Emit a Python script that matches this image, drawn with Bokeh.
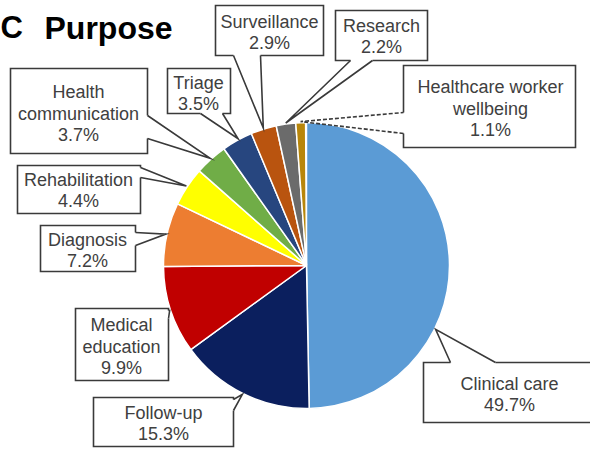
import math
from bokeh.plotting import figure
from bokeh.models import Range1d
from bokeh.core.properties import value
from bokeh.embed import file_html
from bokeh.resources import INLINE

# ---------------- data ----------------
categories = ["Clinical care", "Follow-up", "Medical education", "Diagnosis",
              "Rehabilitation", "Health communication", "Triage", "Surveillance",
              "Research", "Healthcare worker wellbeing"]
percent = [49.7, 15.3, 9.9, 7.2, 4.4, 3.7, 3.5, 2.9, 2.2, 1.1]
colors = ["#5B9BD5", "#0B1F5E", "#C00000", "#ED7D31", "#FFFF00",
          "#70AD47", "#27467F", "#B9540F", "#6B6B6B", "#B8860B"]
title_letter = "C"
title_text = "Purpose"

# ---------------- layout (pixels, y down) ----------------
W, H = 590, 449
CX, CY, R = 306, 265, 143
line_breaks = {"Medical education": ["Medical", "education"],
               "Health communication": ["Health", "communication"],
               "Healthcare worker wellbeing": ["Healthcare worker", "wellbeing"]}
# box (x0, y0, x1, y1), side of pointer, base (a, b), pointer position in slice, text centre, dashed pointer
callouts = {
    "Clinical care":        ((423, 362, 598, 422), "top",    (450, 495), 0.65, (509, 394), False),
    "Follow-up":            ((93, 397, 233, 446),  "right",  (399, 410), 0.50, (163, 423), False),
    "Medical education":    ((75, 308, 168, 380),  "right",  (310, 318), 0.50, (121, 346), False),
    "Diagnosis":            ((40, 225, 135, 271),  "right",  (232, 245), 0.50, (87, 250), False),
    "Rehabilitation":       ((17, 165, 140, 213),  "right",  (167, 177), 0.50, (78, 190), False),
    "Health communication": ((10, 68, 147, 153),   "right",  (115, 138), 0.50, (78, 113), False),
    "Triage":               ((167, 68, 230, 113),  "bottom", (200, 222), 0.55, (198, 93), False),
    "Surveillance":         ((215, 5, 323, 55),    "bottom", (233, 260), 0.50, (269, 32), False),
    "Research":             ((335, 10, 427, 60),   "bottom", (350, 372), 0.50, (381, 36), False),
    "Healthcare worker wellbeing": ((403, 65, 575, 147), "left", (112, 133), 0.50, (490, 108), True),
}
TXT = "#404040"
LINE_H = 21.5


def Y(ypx):
    return H - ypx


p = figure(width=W, height=H, x_range=Range1d(0, W), y_range=Range1d(0, H),
           output_backend="svg", toolbar_location=None, min_border=0,
           background_fill_color="white", border_fill_color="white")
p.axis.visible = False
p.grid.visible = False
p.outline_line_color = None

# ---------------- pie ----------------
total = 100.0
cum = [0.0]
for v in percent:
    cum.append(cum[-1] + v)
starts, ends = [], []
for i in range(len(percent)):
    starts.append(math.pi / 2 - 2 * math.pi * cum[i + 1] / total)
    ends.append(math.pi / 2 - 2 * math.pi * cum[i] / total)
p.wedge(x=CX, y=Y(CY), radius=R, start_angle=starts, end_angle=ends,
        direction="anticlock", fill_color=colors, line_color="white", line_width=1.5)

# ---------------- callouts ----------------
fill_xs, fill_ys = [], []
solid_xs, solid_ys = [], []
dash_xs, dash_ys = [], []
tx, ty, tt = [], [], []
for i, name in enumerate(categories):
    (x0, y0, x1, y1), side, (a, b), frac, (cx_t, cy_t), dashed = callouts[name]
    theta = 2 * math.pi * (cum[i] + frac * percent[i]) / total  # clockwise from top
    tip = (CX + (R + 1) * math.sin(theta), CY - (R + 1) * math.cos(theta))
    TL, TR, BR, BL = (x0, y0), (x1, y0), (x1, y1), (x0, y1)
    if side == "top":
        A, B, rest = (a, y0), (b, y0), [TR, BR, BL, TL]
    elif side == "right":
        A, B, rest = (x1, a), (x1, b), [BR, BL, TL, TR]
    elif side == "bottom":
        A, B, rest = (b, y1), (a, y1), [BL, TL, TR, BR]
    else:
        A, B, rest = (x0, b), (x0, a), [TL, TR, BR, BL]
    poly = [A, tip, B] + rest
    fill_xs.append([q[0] for q in poly]); fill_ys.append([Y(q[1]) for q in poly])
    solid = [B] + rest + [A]
    pointer = [A, tip, B]
    solid_xs.append([q[0] for q in solid]); solid_ys.append([Y(q[1]) for q in solid])
    if dashed:
        dash_xs.append([q[0] for q in pointer]); dash_ys.append([Y(q[1]) for q in pointer])
    else:
        solid_xs.append([q[0] for q in pointer]); solid_ys.append([Y(q[1]) for q in pointer])
    lines = line_breaks.get(name, [name]) + [f"{percent[i]}%"]
    n = len(lines)
    for k, ln in enumerate(lines):
        tx.append(cx_t)
        ty.append(Y(cy_t + (k - (n - 1) / 2) * LINE_H))
        tt.append(ln)

p.patches(fill_xs, fill_ys, fill_color="white", line_alpha=0)
p.multi_line(solid_xs, solid_ys, line_color="#3a3a3a", line_width=1.6, line_join="miter")
p.multi_line(dash_xs, dash_ys, line_color="#3a3a3a", line_width=1.6, line_dash="4 2")
p.text(x=tx, y=ty, text=tt, text_font=value("Liberation Sans"), text_font_size="18px",
       text_color=TXT, text_align="center", text_baseline="middle")

# ---------------- title ----------------
p.text(x=[0], y=[Y(27)], text=[title_letter], text_font=value("Liberation Sans"),
       text_font_size="31px", text_font_style="bold", text_color="black",
       text_baseline="alphabetic")
p.text(x=[44], y=[Y(27)], text=[title_text], text_font=value("Liberation Sans"),
       text_font_size="32px", text_font_style="bold", text_color="black",
       text_baseline="alphabetic")

open("out.html", "w").write(file_html(p, INLINE))
